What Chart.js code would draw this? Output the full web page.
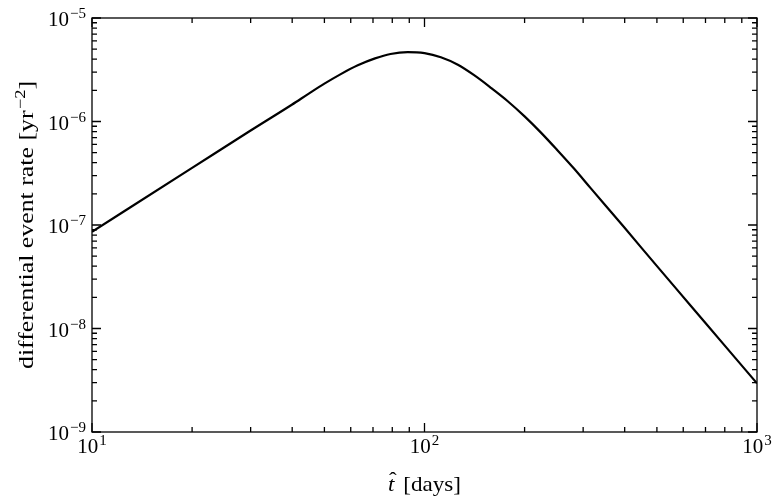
<!DOCTYPE html>
<html>
<head>
<meta charset="utf-8">
<script src="https://cdn.jsdelivr.net/npm/chart.js@4"></script>
<style>
  body { margin: 0; background: #fff; }
  #wrap { width: 784px; height: 502px; }
</style>
</head>
<body>
<div id="wrap"><canvas id="chart"></canvas></div>
<script>
// t-hat in days, differential event rate in yr^-2
const tDays = [10, 20, 30, 40, 45, 50, 56, 63, 71, 79, 89, 100, 112, 126,
  141, 158, 178, 200, 224, 251, 282, 316, 398, 501, 631, 794, 1000];
const eventRate = [8.61e-8, 3.56e-7, 8.18e-7, 1.46e-6, 1.87e-6, 2.32e-6,
  2.87e-6, 3.49e-6, 4.07e-6, 4.49e-6, 4.68e-6, 4.57e-6, 4.17e-6, 3.53e-6,
  2.80e-6, 2.13e-6, 1.57e-6, 1.12e-6, 7.81e-7, 5.28e-7, 3.49e-7, 2.27e-7,
  9.55e-8, 3.98e-8, 1.67e-8, 7.02e-9, 2.95e-9];

const xDecades = [10, 100, 1000];
const xExponents = ['1', '2', '3'];
const yDecades = [1e-9, 1e-8, 1e-7, 1e-6, 1e-5];
const yExponents = ['\u22129', '\u22128', '\u22127', '\u22126', '\u22125'];

const FONT = '"Liberation Serif", "DejaVu Serif", serif';

function minorsOf(decades) {
  const out = [];
  for (let i = 0; i < decades.length - 1; i++) {
    for (let k = 2; k <= 9; k++) out.push(decades[i] * k);
  }
  return out;
}

function powerLabel(ctx, base, exp, x, y, align) {
  ctx.font = '21px ' + FONT;
  const wb = ctx.measureText(base).width;
  ctx.font = '15px ' + FONT;
  const we = ctx.measureText(exp).width;
  let x0 = x;
  if (align === 'center') x0 = x - (wb + we + 1) / 2;
  if (align === 'right') x0 = x - (wb + we + 1);
  ctx.textAlign = 'left';
  ctx.textBaseline = 'alphabetic';
  ctx.font = '21px ' + FONT;
  ctx.fillText(base, x0, y);
  ctx.font = '15px ' + FONT;
  ctx.fillText(exp, x0 + wb + 1, y - 8);
}

const framePlugin = {
  id: 'frame',
  afterDraw(chart) {
    const ctx = chart.ctx;
    const a = chart.chartArea;
    const xs = chart.scales.x, ys = chart.scales.y;
    ctx.save();
    ctx.strokeStyle = '#000';
    ctx.fillStyle = '#000';
    ctx.lineWidth = 1.3;
    ctx.strokeRect(a.left, a.top, a.right - a.left, a.bottom - a.top);

    ctx.beginPath();
    xDecades.forEach(v => {
      const px = xs.getPixelForValue(v);
      ctx.moveTo(px, a.bottom); ctx.lineTo(px, a.bottom - 9);
      ctx.moveTo(px, a.top); ctx.lineTo(px, a.top + 9);
    });
    minorsOf(xDecades).forEach(v => {
      const px = xs.getPixelForValue(v);
      ctx.moveTo(px, a.bottom); ctx.lineTo(px, a.bottom - 5);
      ctx.moveTo(px, a.top); ctx.lineTo(px, a.top + 5);
    });
    yDecades.forEach(v => {
      const py = ys.getPixelForValue(v);
      ctx.moveTo(a.left, py); ctx.lineTo(a.left + 9, py);
      ctx.moveTo(a.right, py); ctx.lineTo(a.right - 9, py);
    });
    minorsOf(yDecades).forEach(v => {
      const py = ys.getPixelForValue(v);
      ctx.moveTo(a.left, py); ctx.lineTo(a.left + 5, py);
      ctx.moveTo(a.right, py); ctx.lineTo(a.right - 5, py);
    });
    ctx.stroke();

    xDecades.forEach((v, i) => {
      powerLabel(ctx, '10', xExponents[i], xs.getPixelForValue(v), a.bottom + 21, 'center');
    });
    yDecades.forEach((v, i) => {
      powerLabel(ctx, '10', yExponents[i], a.left - 6, ys.getPixelForValue(v) + 8, 'right');
    });

    // x title: t-hat [days], stretched a little to the width of the original
    const rest = '[days]';
    ctx.font = 'italic 21px ' + FONT;
    const wt = ctx.measureText('t').width;
    ctx.font = '21px ' + FONT;
    const wr = ctx.measureText(rest).width;
    const gap = 8;
    const xw = wt + gap + wr;
    const xsx = 73 / xw;
    const cx = (a.left + a.right) / 2;
    ctx.save();
    ctx.translate(cx - 73 / 2, 491);
    ctx.scale(xsx, 1);
    ctx.textAlign = 'left';
    ctx.font = 'italic 21px ' + FONT;
    ctx.fillText('t', 0, 0);
    ctx.font = '21px ' + FONT;
    ctx.textAlign = 'center';
    ctx.fillText('\u02C6', wt / 2 + 1.5, -4);
    ctx.textAlign = 'left';
    ctx.fillText(rest, wt + gap, 0);
    ctx.restore();

    // y title
    const main = 'differential event rate [yr';
    const close = ']';
    ctx.font = '21px ' + FONT;
    const wm = ctx.measureText(main).width;
    const wc = ctx.measureText(close).width;
    ctx.font = '15px ' + FONT;
    const we = ctx.measureText('\u22122').width;
    const total = wm + we + 1 + wc;
    const target = 288;
    ctx.translate(33, (a.top + a.bottom) / 2);
    ctx.rotate(-Math.PI / 2);
    ctx.scale(target / total, 1);
    ctx.textAlign = 'left';
    const sx = -total / 2;
    ctx.font = '21px ' + FONT;
    ctx.fillText(main, sx, 0);
    ctx.font = '15px ' + FONT;
    ctx.fillText('\u22122', sx + wm + 1, -8);
    ctx.font = '21px ' + FONT;
    ctx.fillText(close, sx + wm + we + 1, 0);
    ctx.restore();
  }
};

new Chart(document.getElementById('chart'), {
  type: 'line',
  data: {
    datasets: [{
      data: tDays.map((t, i) => ({ x: t, y: eventRate[i] })),
      borderColor: '#000',
      borderWidth: 2.2,
      pointRadius: 0,
      fill: false,
      cubicInterpolationMode: 'monotone'
    }]
  },
  options: {
    responsive: true,
    maintainAspectRatio: false,
    animation: false,
    layout: { padding: { left: 0, top: 18, right: 27, bottom: 0 } },
    plugins: { legend: { display: false }, tooltip: { enabled: false } },
    scales: {
      x: {
        type: 'logarithmic',
        min: 10, max: 1000,
        grid: { display: false },
        border: { display: false },
        ticks: { display: false },
        afterFit: s => { s.height = 70; }
      },
      y: {
        type: 'logarithmic',
        min: 1e-9, max: 1e-5,
        grid: { display: false },
        border: { display: false },
        ticks: { display: false },
        afterFit: s => { s.width = 92; }
      }
    }
  },
  plugins: [framePlugin]
});
</script>
</body>
</html>
